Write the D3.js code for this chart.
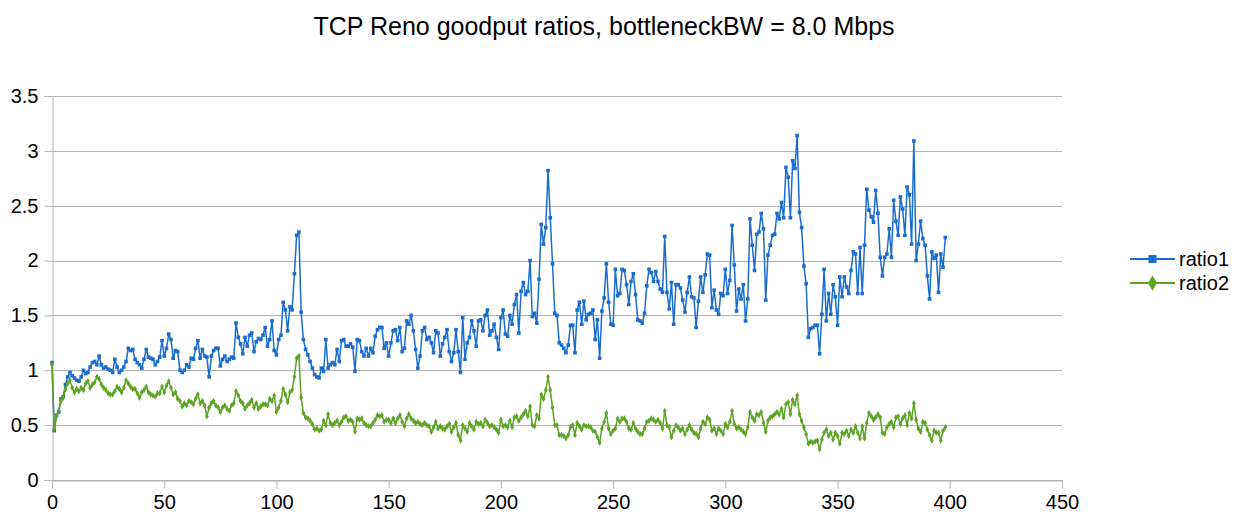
<!DOCTYPE html>
<html>
<head>
<meta charset="utf-8">
<script src="https://cdn.jsdelivr.net/npm/d3@7"></script>
<style>
  body { margin: 0; background: #fff; }
  svg { display: block; }
  text { font-family: "Liberation Sans", Arial, sans-serif; fill: #000; }
</style>
</head>
<body>
<svg id="chart" width="1237" height="514"></svg>
<script>
// ---- data -------------------------------------------------------------
const chartTitle = "TCP Reno goodput ratios, bottleneckBW = 8.0 Mbps";
const seriesNames = ["ratio1", "ratio2"];
const xTickValues = [0, 50, 100, 150, 200, 250, 300, 350, 400, 450];
const yTickValues = [0, 0.5, 1, 1.5, 2, 2.5, 3, 3.5];

const ratio1 = [
  1.07,0.45,0.59,0.62,0.74,0.76,0.87,0.94,0.98,0.95,
  0.93,0.91,0.90,0.94,1.00,0.97,0.98,1.03,1.07,1.08,
  1.05,1.13,1.05,1.02,1.03,1.01,1.00,0.98,1.10,1.03,
  0.98,1.00,1.03,1.08,1.20,1.18,1.19,1.10,1.07,1.05,
  1.02,1.10,1.19,1.12,1.11,1.10,1.05,1.08,1.12,1.27,
  1.13,1.20,1.33,1.28,1.11,1.18,1.17,1.00,0.98,1.00,
  1.05,1.03,1.11,1.10,1.20,1.27,1.11,1.19,1.13,1.12,
  0.94,1.13,1.18,1.20,1.20,1.04,1.10,1.13,1.08,1.10,
  1.12,1.11,1.43,1.30,1.24,1.15,1.30,1.22,1.32,1.34,
  1.17,1.26,1.29,1.28,1.32,1.39,1.22,1.28,1.45,1.18,
  1.14,1.28,1.32,1.62,1.55,1.36,1.58,1.55,1.88,2.23,
  2.26,1.53,1.28,1.19,1.14,1.08,1.02,0.96,0.94,0.93,
  1.02,0.99,1.28,1.02,1.05,1.07,1.05,1.19,1.08,1.27,
  1.28,1.22,1.22,1.24,1.21,0.99,1.28,1.27,1.17,1.13,
  1.20,1.13,1.20,1.16,1.31,1.37,1.39,1.39,1.20,1.25,
  1.13,1.25,1.36,1.37,1.27,1.39,1.17,1.20,1.45,1.42,
  1.50,1.36,1.19,1.02,1.13,1.36,1.39,1.28,1.30,1.25,
  1.16,1.36,1.34,1.13,1.24,1.30,1.37,1.17,1.08,1.16,
  1.37,1.17,0.98,1.48,1.10,1.25,1.30,1.45,1.36,1.22,
  1.45,1.46,1.36,1.50,1.55,1.32,1.36,1.42,1.30,1.19,
  1.48,1.55,1.33,1.31,1.50,1.42,1.60,1.69,1.34,1.72,
  1.80,1.69,1.72,2.00,1.49,1.52,1.43,1.83,2.33,2.15,
  2.30,2.82,2.39,1.97,1.52,1.50,1.25,1.23,1.20,1.16,
  1.23,1.41,1.41,1.16,1.55,1.62,1.42,1.63,1.46,1.51,
  1.52,1.55,1.28,1.46,1.11,1.54,1.66,1.97,1.62,1.42,
  1.41,1.92,1.68,1.70,1.92,1.91,1.78,1.60,1.81,1.88,
  1.69,1.46,1.45,1.43,1.52,1.77,1.92,1.89,1.81,1.90,
  1.81,1.74,1.71,2.22,1.71,1.56,1.80,1.42,1.78,1.78,
  1.75,1.64,1.53,1.71,1.85,1.67,1.66,1.39,1.63,1.85,
  1.71,1.87,2.06,2.05,1.57,1.73,1.55,1.51,1.70,1.68,
  1.92,1.70,1.82,2.32,1.96,1.54,1.74,1.65,1.78,1.45,
  1.65,2.38,2.14,1.91,2.24,2.26,2.43,2.29,1.64,2.05,
  2.14,2.23,2.24,2.43,2.38,2.53,2.39,2.85,2.76,2.39,
  2.91,2.84,3.14,2.44,2.30,1.95,1.79,1.30,1.38,1.39,
  1.41,1.41,1.15,1.51,1.92,1.45,1.70,1.51,1.78,1.67,
  1.41,1.85,1.67,1.85,1.76,1.70,1.91,2.08,2.06,1.70,
  2.12,1.70,2.14,2.65,2.46,2.40,2.35,2.64,2.43,2.03,
  1.86,2.03,2.06,2.29,2.03,2.55,2.36,2.23,2.58,2.47,
  2.23,2.67,2.60,2.15,3.09,2.00,2.15,2.36,2.20,2.14,
  1.86,1.65,2.08,2.02,2.05,1.71,2.06,1.94,2.21
];

const ratio2 = [
  1.05,0.47,0.58,0.63,0.72,0.75,0.83,0.88,0.91,0.84,
  0.80,0.83,0.81,0.84,0.82,0.88,0.90,0.84,0.87,0.89,
  0.94,0.92,0.87,0.84,0.82,0.79,0.78,0.78,0.81,0.85,
  0.83,0.80,0.84,0.91,0.88,0.85,0.83,0.83,0.79,0.75,
  0.80,0.82,0.85,0.80,0.78,0.77,0.76,0.79,0.79,0.85,
  0.80,0.86,0.90,0.84,0.78,0.80,0.74,0.72,0.67,0.70,
  0.68,0.72,0.71,0.69,0.74,0.78,0.70,0.72,0.68,0.58,
  0.66,0.70,0.72,0.68,0.66,0.62,0.66,0.68,0.65,0.63,
  0.68,0.70,0.81,0.77,0.72,0.70,0.65,0.68,0.70,0.73,
  0.66,0.70,0.65,0.67,0.69,0.69,0.68,0.74,0.72,0.77,
  0.62,0.66,0.72,0.83,0.78,0.71,0.80,0.82,0.94,1.11,
  1.13,0.75,0.61,0.57,0.56,0.54,0.51,0.46,0.47,0.45,
  0.46,0.54,0.50,0.60,0.52,0.50,0.52,0.54,0.50,0.53,
  0.57,0.58,0.54,0.55,0.53,0.44,0.56,0.55,0.56,0.52,
  0.50,0.49,0.49,0.52,0.55,0.59,0.58,0.59,0.53,0.55,
  0.55,0.52,0.56,0.52,0.56,0.59,0.53,0.49,0.56,0.60,
  0.56,0.54,0.52,0.53,0.51,0.50,0.52,0.50,0.49,0.44,
  0.48,0.53,0.47,0.49,0.47,0.46,0.49,0.51,0.44,0.48,
  0.52,0.41,0.36,0.50,0.47,0.44,0.52,0.49,0.46,0.53,
  0.51,0.52,0.49,0.55,0.52,0.49,0.50,0.48,0.46,0.43,
  0.55,0.49,0.50,0.48,0.54,0.48,0.57,0.58,0.54,0.57,
  0.60,0.63,0.58,0.67,0.50,0.49,0.59,0.56,0.78,0.74,
  0.82,0.94,0.82,0.66,0.50,0.50,0.41,0.41,0.40,0.38,
  0.41,0.48,0.50,0.41,0.52,0.49,0.46,0.50,0.49,0.49,
  0.48,0.45,0.44,0.39,0.34,0.47,0.53,0.61,0.47,0.42,
  0.45,0.47,0.56,0.53,0.56,0.56,0.53,0.47,0.46,0.52,
  0.47,0.44,0.42,0.42,0.47,0.53,0.54,0.56,0.55,0.53,
  0.55,0.52,0.47,0.63,0.50,0.48,0.39,0.45,0.50,0.48,
  0.45,0.47,0.42,0.46,0.50,0.46,0.43,0.42,0.39,0.47,
  0.53,0.51,0.57,0.55,0.45,0.47,0.42,0.47,0.45,0.42,
  0.51,0.48,0.53,0.63,0.51,0.47,0.48,0.46,0.44,0.42,
  0.48,0.62,0.57,0.54,0.60,0.59,0.62,0.52,0.44,0.54,
  0.57,0.58,0.60,0.62,0.60,0.65,0.57,0.69,0.71,0.60,
  0.73,0.69,0.77,0.60,0.54,0.48,0.42,0.33,0.35,0.34,
  0.35,0.36,0.28,0.37,0.43,0.46,0.40,0.43,0.37,0.43,
  0.40,0.33,0.43,0.42,0.45,0.40,0.46,0.43,0.49,0.43,
  0.38,0.49,0.38,0.52,0.61,0.58,0.55,0.57,0.60,0.57,
  0.43,0.42,0.48,0.51,0.53,0.48,0.57,0.58,0.51,0.56,
  0.59,0.50,0.61,0.56,0.70,0.55,0.47,0.44,0.53,0.52,
  0.46,0.41,0.36,0.45,0.43,0.43,0.36,0.45,0.48
];

// ---- layout -----------------------------------------------------------
const plot = { left: 52, right: 1062, top: 96, bottom: 480 };
const colors = ["#1a6dcf", "#5da424"];
const gridColor = "#b3b3b3";

const svg = d3.select("#chart");

const x = d3.scaleLinear().domain([0, 450]).range([plot.left, plot.right]);
const y = d3.scaleLinear().domain([0, 3.5]).range([plot.bottom, plot.top]);

// title
svg.append("text")
  .attr("x", 604).attr("y", 35)
  .attr("text-anchor", "middle")
  .style("font-size", "25px")
  .text(chartTitle);

// horizontal gridlines
svg.append("g")
  .selectAll("line")
  .data(yTickValues)
  .join("line")
  .attr("x1", plot.left).attr("x2", plot.right)
  .attr("y1", d => Math.round(y(d)) + 0.5).attr("y2", d => Math.round(y(d)) + 0.5)
  .attr("stroke", gridColor).attr("stroke-width", 1);

// y axis
const yAxis = svg.append("g")
  .attr("transform", `translate(${plot.left + 0.5},0)`)
  .call(d3.axisLeft(y).tickValues(yTickValues).tickSize(8).tickPadding(6)
    .tickFormat(d3.format("")));
yAxis.select(".domain").attr("stroke", gridColor);
yAxis.selectAll(".tick line").attr("stroke", gridColor);
yAxis.selectAll(".tick text")
  .style("font-size", "20px")
  .style("font-family", '"Liberation Sans", Arial, sans-serif')
  .attr("fill", "#000");

// x axis
const xAxis = svg.append("g")
  .attr("transform", `translate(0,${Math.round(y(0)) + 0.5})`)
  .call(d3.axisBottom(x).tickValues(xTickValues).tickSize(8).tickPadding(6)
    .tickFormat(d3.format("")));
xAxis.select(".domain").attr("stroke", gridColor);
xAxis.selectAll(".tick line").attr("stroke", gridColor);
xAxis.selectAll(".tick text")
  .style("font-size", "20px")
  .style("font-family", '"Liberation Sans", Arial, sans-serif')
  .attr("fill", "#000");

// series: line plus a small marker at every sample
const seriesData = [ratio1, ratio2];
const symbols = [d3.symbolSquare, d3.symbolDiamond];
const symbolSizes = [13, 12];

const line = d3.line().x((d, i) => x(i)).y(d => y(d));

seriesData.forEach((vals, s) => {
  const g = svg.append("g");
  g.append("path")
    .datum(vals)
    .attr("d", line)
    .attr("fill", "none")
    .attr("stroke", colors[s])
    .attr("stroke-width", 1.5)
    .attr("stroke-linejoin", "round");
  g.selectAll("path.pt")
    .data(vals)
    .join("path")
    .attr("class", "pt")
    .attr("transform", (d, i) => `translate(${x(i)},${y(d)})`)
    .attr("d", d3.symbol(symbols[s]).size(symbolSizes[s]))
    .attr("fill", colors[s]);
});

// legend
const legendRows = [259, 283];
seriesNames.forEach((name, s) => {
  const g = svg.append("g").attr("transform", `translate(1130,${legendRows[s]})`);
  g.append("line").attr("x1", 0).attr("x2", 45).attr("y1", 0).attr("y2", 0)
    .attr("stroke", colors[s]).attr("stroke-width", 2);
  g.append("path")
    .attr("transform", "translate(22.5,0)")
    .attr("d", d3.symbol(symbols[s]).size(s === 0 ? 64 : 70))
    .attr("fill", colors[s]);
  g.append("text").attr("x", 49).attr("y", 0).attr("dy", "0.35em")
    .style("font-size", "20px").text(name);
});
</script>
</body>
</html>
